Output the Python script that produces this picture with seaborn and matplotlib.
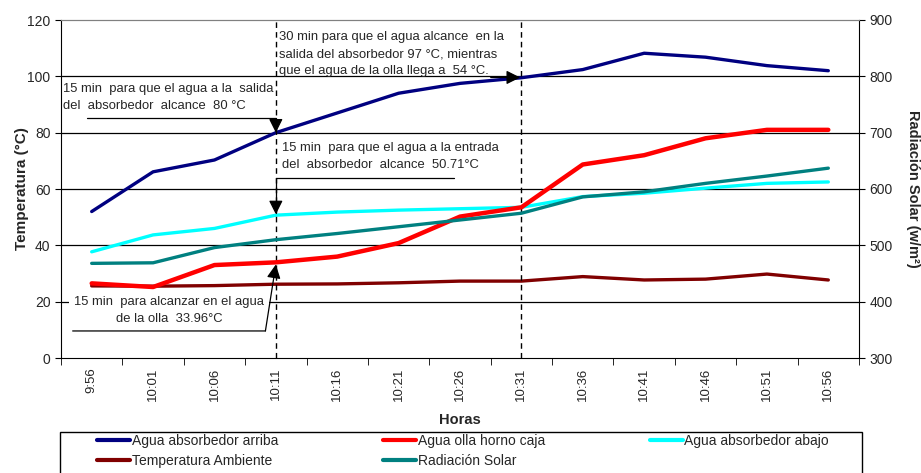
import numpy as np
import pandas as pd
import matplotlib
matplotlib.use("Agg")
import matplotlib.pyplot as plt
from matplotlib.patches import Rectangle
import seaborn as sns

# values
horas = ["9:56", "10:01", "10:06", "10:11", "10:16", "10:21", "10:26",
         "10:31", "10:36", "10:41", "10:46", "10:51", "10:56"]
agua_arriba = [52, 66.1, 70.3, 80, 87, 94, 97.5, 99.5, 102.4, 108.2, 106.8, 103.8, 102]
agua_olla = [26.5, 25.2, 33, 33.96, 36, 40.8, 50.2, 53.5, 68.7, 72, 78, 81, 81]
agua_abajo = [37.7, 43.7, 46, 50.71, 51.8, 52.5, 53, 53.5, 57.3, 58.5, 60.3, 62, 62.5]
temp_ambiente = [25.6, 25.5, 25.7, 26.2, 26.3, 26.7, 27.3, 27.3, 28.9, 27.7, 28, 29.8, 27.7]
radiacion = [468, 469, 496, 510, 521, 533, 545, 557, 586, 595, 610, 623, 637]

df = pd.DataFrame({
    "idx": np.arange(len(horas)),
    "arriba": agua_arriba,
    "olla": agua_olla,
    "abajo": agua_abajo,
    "ambiente": temp_ambiente,
    "radiacion": radiacion,
})

sns.set_style("white")
plt.rcParams["font.family"] = ["Liberation Sans", "DejaVu Sans"]

fig = plt.figure(figsize=(9.21, 4.73), dpi=100)
W, H = 921, 473
ax = fig.add_axes([61 / W, 1 - 358 / H, 798 / W, 338 / H])
ax2 = ax.twinx()

sns.lineplot(data=df, x="idx", y="arriba", ax=ax, color="#000080", lw=2.4, label="Agua absorbedor arriba")
sns.lineplot(data=df, x="idx", y="ambiente", ax=ax, color="#800000", lw=2.4, label="Temperatura Ambiente")
sns.lineplot(data=df, x="idx", y="olla", ax=ax, color="#FF0000", lw=3.2, label="Agua olla horno caja")
sns.lineplot(data=df, x="idx", y="radiacion", ax=ax2, color="#008080", lw=2.4, label="Radiación Solar")
sns.lineplot(data=df, x="idx", y="abajo", ax=ax, color="#00FFFF", lw=2.4, label="Agua absorbedor abajo")
# keep the olla line on top of the cyan/teal like the original
ax.lines[2].set_zorder(5)

h1, l1 = ax.get_legend_handles_labels()
h2, l2 = ax2.get_legend_handles_labels()
ax.get_legend().remove()
ax2.get_legend().remove()
handles = [h1[0], h1[1], h1[2], h2[0], h1[3]]
labels = [l1[0], l1[1], l1[2], l2[0], l1[3]]

# axes ranges / ticks
ax.set_xlim(-0.5, len(horas) - 0.5)
ax.set_ylim(0, 120)
ax2.set_ylim(300, 900)
ax.set_yticks(np.arange(0, 121, 20))
ax2.set_yticks(np.arange(300, 901, 100))
ax.set_xticks(np.arange(len(horas)))
ax.set_xticklabels(horas, rotation=90, fontsize=9.5)
ax.set_xticks(np.arange(len(horas) + 1) - 0.5, minor=True)
ax.tick_params(axis="x", which="major", length=0, pad=7)
ax.tick_params(axis="x", which="minor", length=5, direction="out", color="black", bottom=True)
ax.tick_params(axis="y", length=4, direction="out", color="black", left=True, labelsize=10)
ax2.tick_params(axis="y", length=4, direction="out", color="black", right=True, labelsize=10)

for y in range(20, 101, 20):
    ax.axhline(y, color="black", lw=0.9, zorder=0.5)

for sp in ["left", "bottom"]:
    ax.spines[sp].set_color("black")
ax2.spines["right"].set_color("black")
ax.spines["top"].set_color("#808080")
ax2.spines["top"].set_color("#808080")
ax.spines["right"].set_visible(False)
ax2.spines["left"].set_visible(False)
ax2.spines["bottom"].set_visible(False)

ax.set_xlabel("Horas", fontsize=10.5, fontweight="bold")
ax.xaxis.set_label_coords(0.5, -(413 - 358) / 338)
ax.set_ylabel("Temperatura (°C)", fontsize=11, fontweight="bold")
ax.yaxis.set_label_coords(-(61 - 29) / 798, 0.5)
ax2.set_ylabel("Radiación Solar (w/m²)", fontsize=10.5, fontweight="bold", rotation=-90, va="bottom")
ax2.yaxis.set_label_coords(1 + (906 - 859) / 798, 0.5)

# dashed markers at 10:11 and 10:31
for i in [3, 7]:
    ax.axvline(i, color="black", lw=1, ls=(0, (4, 3)), zorder=3)

# annotations
fs = 9.4
ls = 1.55
arrow = dict(arrowstyle="-|>,head_width=0.3,head_length=0.6", color="black", lw=0.9, mutation_scale=14)
ax.text(-0.47, 92.5, "15 min  para que el agua a la  salida\ndel  absorbedor  alcance  80 °C",
        fontsize=fs, va="center", ha="left", linespacing=ls)
ax.annotate("", xy=(3.0, 80), xytext=(-0.07, 85.2),
            arrowprops=dict(arrow, connectionstyle="angle,angleA=0,angleB=90,rad=0", shrinkA=0, shrinkB=0))

ax.text(3.05, 107.8, "30 min para que el agua alcance  en la\nsalida del absorbedor 97 °C, mientras\nque el agua de la olla llega a  54 °C.",
        fontsize=fs, va="center", ha="left", linespacing=ls)
ax.annotate("", xy=(6.98, 99.6), xytext=(6.5, 99.6),
            arrowprops=dict(arrow, shrinkA=0, shrinkB=0))

ax.text(3.1, 71.7, "15 min  para que el agua a la entrada\ndel  absorbedor  alcance  50.71°C",
        fontsize=fs, va="center", ha="left", linespacing=ls)
ax.annotate("", xy=(3.0, 51), xytext=(5.9, 63.9),
            arrowprops=dict(arrow, connectionstyle="angle,angleA=0,angleB=90,rad=0", shrinkA=0, shrinkB=0))

ax.text(1.26, 17.0, "15 min  para alcanzar en el agua\nde la olla  33.96°C",
        fontsize=fs, va="center", ha="center", multialignment="center", linespacing=ls,
        bbox=dict(boxstyle="square,pad=0.4", fc="white", ec="none"), zorder=4)
ax.annotate("", xy=(2.83, 9.6), xytext=(-0.31, 9.6),
            arrowprops=dict(arrowstyle="-", color="black", lw=0.9, shrinkA=0, shrinkB=0), zorder=5)
ax.annotate("", xy=(3.0, 33.2), xytext=(2.83, 9.6),
            arrowprops=dict(arrow, shrinkA=0, shrinkB=0), zorder=5)

# legend with Excel-like frame
fig.add_artist(Rectangle((60 / W, -0.01), 802 / W, 1 - 432 / H + 0.01, transform=fig.transFigure,
                         fill=False, ec="black", lw=1))
fig.legend(handles, labels, loc="upper left", ncol=3, mode="expand",
           bbox_to_anchor=(95 / W, 0, 736 / W, 1 - 432 / H), frameon=False,
           fontsize=10, handlelength=2.4, handletextpad=0.1, borderpad=0.15,
           borderaxespad=0, labelspacing=0.45)
for lh in fig.legends[0].get_lines():
    lh.set_linewidth(3)

fig.savefig("out.png", dpi=100)
